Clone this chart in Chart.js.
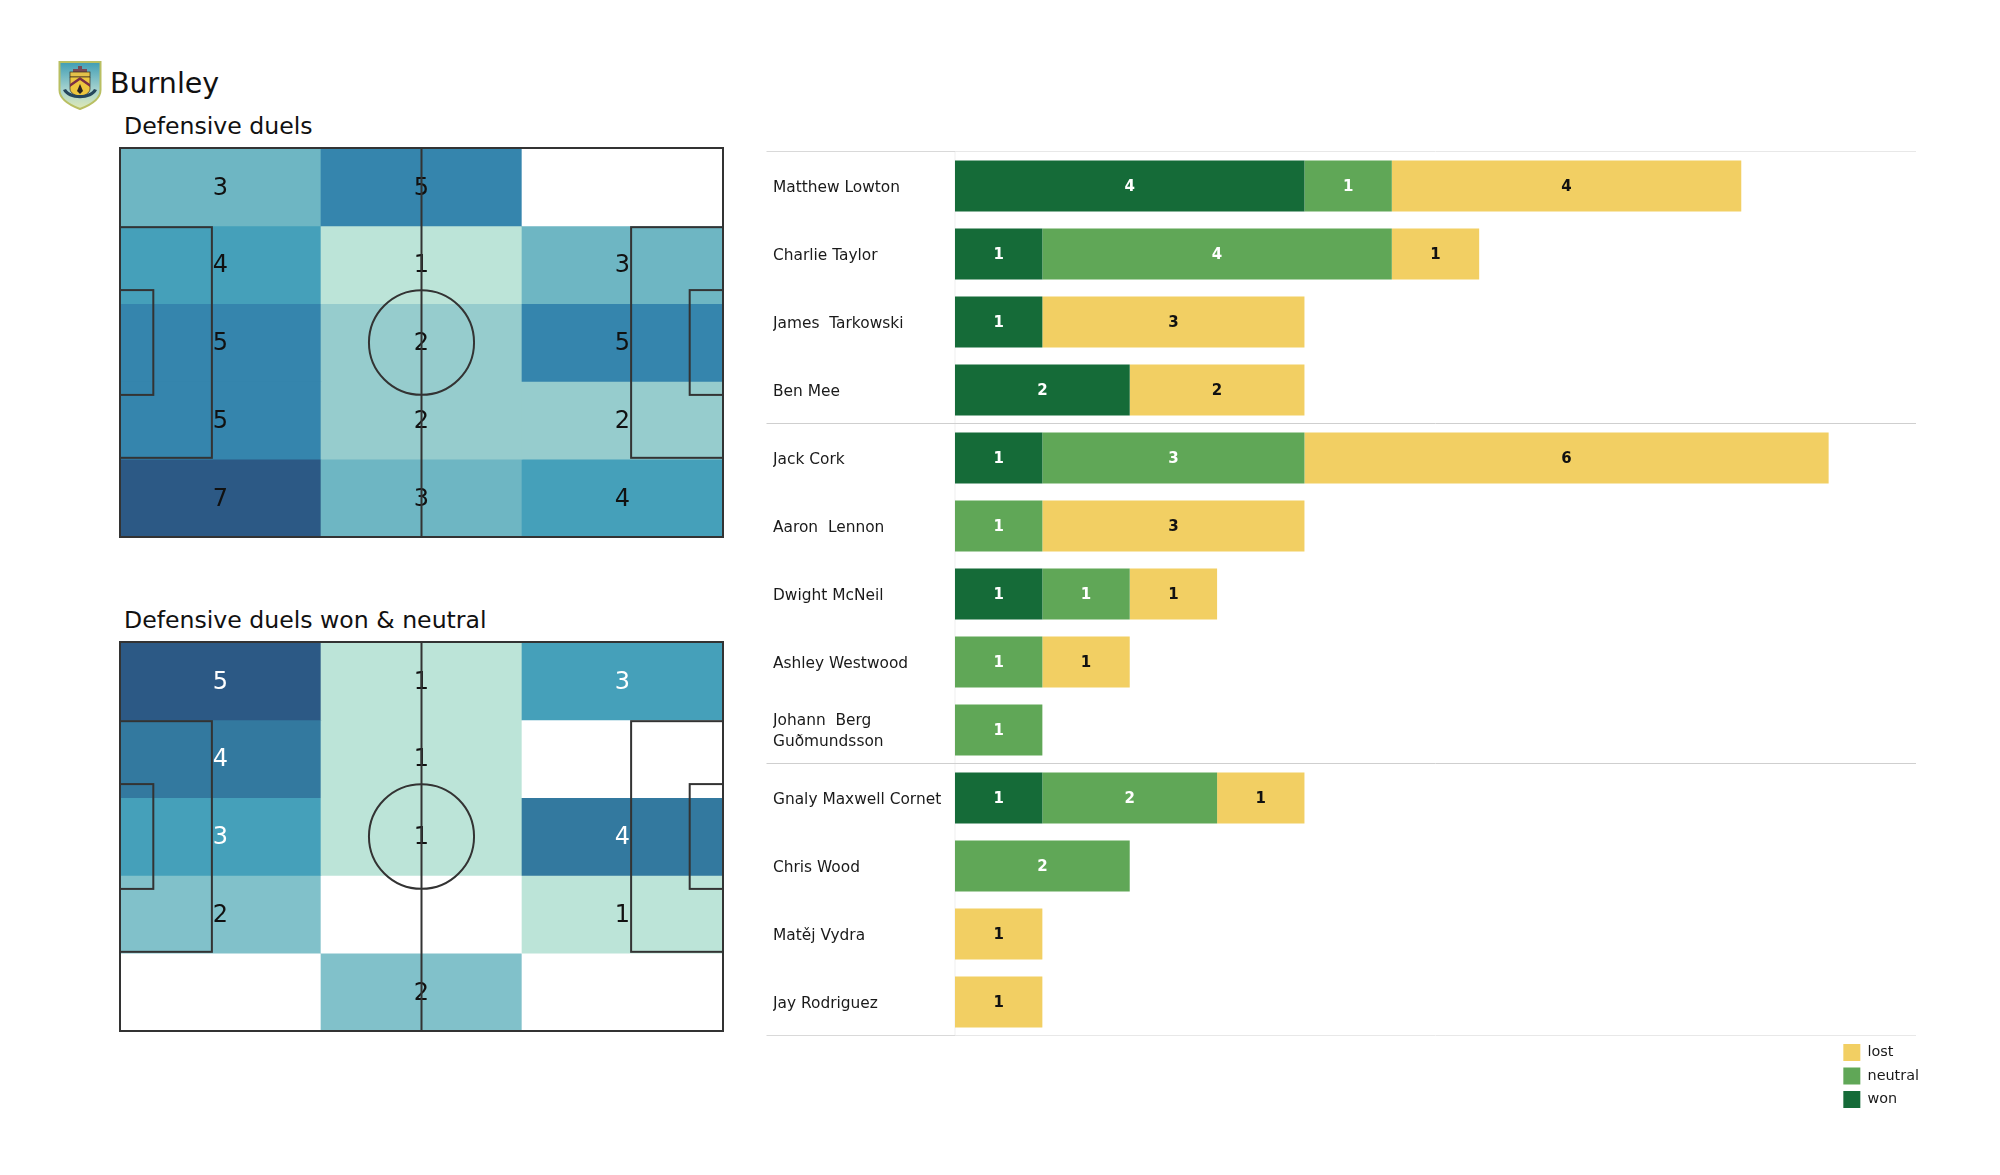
<!DOCTYPE html>
<html>
<head>
<meta charset="utf-8">
<title>Burnley defensive duels</title>
<script src="https://cdn.jsdelivr.net/npm/chart.js@4/dist/chart.umd.min.js"></script>
<style>
  html, body { margin: 0; padding: 0; background: #fff; }
  body { width: 2000px; height: 1175px; position: relative; overflow: hidden; font-family: "DejaVu Sans", sans-serif; color: #111; }
  canvas, .label, svg { position: absolute; }
  .label { white-space: nowrap; line-height: 1; }
</style>
</head>
<body>
<svg style="left:58px;top:60px" width="44" height="50" viewBox="0 0 44 50">
  <defs>
    <linearGradient id="sky" x1="0" y1="0" x2="0" y2="1">
      <stop offset="0" stop-color="#3f9db4"/><stop offset="0.6" stop-color="#a8d4d0"/><stop offset="1" stop-color="#dfe9b4"/>
    </linearGradient>
  </defs>
  <path d="M1.5 2 H42.5 V30 C42.5 40 30 46 22 49 C14 46 1.5 40 1.5 30 Z" fill="url(#sky)" stroke="#b9bf62" stroke-width="2"/>
  <path d="M20 6 h4 v3 h5 v3 H15 v-3 h5 Z" fill="#7a4a55"/>
  <rect x="12" y="12" width="20" height="5" fill="#e4c04a" stroke="#33281f" stroke-width="0.7"/>
  <path d="M12 17 H32 V29 C32 33 26 36 22 37 C18 36 12 33 12 29 Z" fill="#edc63e" stroke="#3a2a20" stroke-width="0.7"/>
  <path d="M12 24 L22 17 L32 24 V27 L22 20 L12 27 Z" fill="#7a2f45"/>
  <path d="M19 31 l3 -7 l3 7 l-3 3 Z" fill="#2b2420"/>
  <path d="M5 30 C10 41 34 41 39 30 L36 29 C31 37 13 37 8 29 Z" fill="#26465c"/>
</svg>
<div class="label" style="left:110px;top:70px;font-size:28.5px">Burnley</div>
<div class="label" style="left:124px;top:114.5px;font-size:23.6px">Defensive duels</div>
<div class="label" style="left:124px;top:608.5px;font-size:23.6px">Defensive duels won &amp; neutral</div>

<canvas id="duelsChart" style="left:116px;top:144px" width="611" height="397"></canvas>
<canvas id="wonChart" style="left:116px;top:638px" width="611" height="397"></canvas>
<canvas id="playersChart" style="left:760px;top:145px" width="1165" height="900"></canvas>
<canvas id="legendChart" style="left:1738.5px;top:1037px" width="190" height="78"></canvas>

<script>
// pitch zones, top row first, left to right
const zoneColumns = ['left', 'middle', 'right'];
const duelsZones = [
  [3, 5, 0],
  [4, 1, 3],
  [5, 2, 5],
  [5, 2, 2],
  [7, 3, 4]
];
const wonZones = [
  [5, 1, 3],
  [4, 1, 0],
  [3, 1, 4],
  [2, 0, 1],
  [0, 2, 0]
];

const players = [
  'Matthew Lowton', 'Charlie Taylor', 'James  Tarkowski', 'Ben Mee',
  'Jack Cork', 'Aaron  Lennon', 'Dwight McNeil', 'Ashley Westwood', ['Johann  Berg', 'Guðmundsson'],
  'Gnaly Maxwell Cornet', 'Chris Wood', 'Matěj Vydra', 'Jay Rodriguez'
];
const won     = [4, 1, 1, 2, 1, 0, 1, 0, 0, 1, 0, 0, 0];
const neutral = [1, 4, 0, 0, 3, 1, 1, 1, 1, 2, 2, 0, 0];
const lost    = [4, 1, 3, 2, 6, 3, 1, 1, 0, 1, 0, 1, 1];

// rows that get a separator line above them (13 = bottom edge)
const separators = [0, 4, 9, 13];

// value -> colour
const duelsColors = { 0: '#ffffff', 1: '#bce4d8', 2: '#96cccd', 3: '#6eb6c3', 4: '#45a0ba', 5: '#3585ad', 7: '#2c5985' };
const wonColors = { 0: '#ffffff', 1: '#bce4d8', 2: '#81c1ca', 3: '#45a0ba', 4: '#33799f', 5: '#2c5985' };

const FONT = '"DejaVu Sans", sans-serif';
const WON = '#156b38', NEUTRAL = '#60a757', LOST = '#f2cf63';
const PITCH_LINE = '#333333';

// draws the numbers over the heatmap cells
const zoneLabels = {
  id: 'zoneLabels',
  afterDatasetsDraw(chart, args, opts) {
    const ctx = chart.ctx;
    ctx.save();
    ctx.font = '24px ' + FONT;
    ctx.textAlign = 'center';
    ctx.textBaseline = 'middle';
    chart.data.datasets.forEach((ds, row) => {
      chart.getDatasetMeta(row).data.forEach((bar, col) => {
        const v = ds.zoneValues[col];
        if (!v) return;
        ctx.fillStyle = v >= opts.whiteFrom ? '#ffffff' : '#111111';
        ctx.fillText(v, bar.x, (bar.y + bar.base) / 2 + 1.5);
      });
    });
    ctx.restore();
  }
};

// pitch markings, in metres on the two hidden scales
const pitchLines = {
  id: 'pitchLines',
  afterDatasetsDraw(chart) {
    const ctx = chart.ctx;
    const px = chart.scales.pitchX, py = chart.scales.pitchY;
    const rect = (x0, y0, x1, y1) => {
      const l = px.getPixelForValue(x0), t = py.getPixelForValue(y0);
      ctx.strokeRect(l, t, px.getPixelForValue(x1) - l, py.getPixelForValue(y1) - t);
    };
    ctx.save();
    ctx.strokeStyle = PITCH_LINE;
    ctx.lineWidth = 2;
    rect(0, 0, 105, 68);
    rect(0, 13.84, 16, 54.16);
    rect(105 - 16, 13.84, 105, 54.16);
    rect(0, 24.84, 5.8, 43.16);
    rect(105 - 5.8, 24.84, 105, 43.16);
    ctx.beginPath();
    ctx.moveTo(px.getPixelForValue(52.5), py.getPixelForValue(0));
    ctx.lineTo(px.getPixelForValue(52.5), py.getPixelForValue(68));
    ctx.stroke();
    ctx.beginPath();
    ctx.ellipse(px.getPixelForValue(52.5), py.getPixelForValue(34),
      px.getPixelForValue(9.15) - px.getPixelForValue(0),
      py.getPixelForValue(9.15) - py.getPixelForValue(0), 0, 0, Math.PI * 2);
    ctx.stroke();
    ctx.restore();
  }
};

function heatmap(id, zones, colors, whiteFrom) {
  return new Chart(document.getElementById(id), {
    type: 'bar',
    data: {
      labels: zoneColumns,
      datasets: zones.map(row => ({
        data: row.map(() => 1),
        zoneValues: row,
        backgroundColor: row.map(v => colors[v]),
        borderWidth: 0,
        barPercentage: 1,
        categoryPercentage: 1
      }))
    },
    options: {
      responsive: false,
      animation: false,
      layout: { padding: 4 },
      plugins: { legend: { display: false }, tooltip: { enabled: false }, zoneLabels: { whiteFrom: whiteFrom } },
      scales: {
        x: { stacked: true, display: false },
        y: { stacked: true, display: false, reverse: true, min: 0, max: zones.length },
        // bar charts default x scales to offset, the pitch must span the whole area
        pitchX: { axis: 'x', type: 'linear', display: false, offset: false, min: 0, max: 105 },
        pitchY: { axis: 'y', type: 'linear', display: false, offset: false, min: 0, max: 68, reverse: true }
      }
    },
    plugins: [zoneLabels, pitchLines]
  });
}

heatmap('duelsChart', duelsZones, duelsColors, 99);
heatmap('wonChart', wonZones, wonColors, 3);

// numbers inside the player bars
const barLabels = {
  id: 'barLabels',
  afterDatasetsDraw(chart) {
    const ctx = chart.ctx;
    ctx.save();
    ctx.font = 'bold 15px ' + FONT;
    ctx.textAlign = 'center';
    ctx.textBaseline = 'middle';
    chart.data.datasets.forEach((ds, i) => {
      ctx.fillStyle = ds.label === 'lost' ? '#111111' : '#ffffff';
      chart.getDatasetMeta(i).data.forEach((bar, j) => {
        if (!ds.data[j]) return;
        ctx.fillText(ds.data[j], (bar.x + bar.base) / 2, bar.y + 1);
      });
    });
    ctx.restore();
  }
};

// group separators run across the name column too, so they are not grid lines
const rowLines = {
  id: 'rowLines',
  beforeDatasetsDraw(chart) {
    const ctx = chart.ctx, y = chart.scales.y, area = chart.chartArea;
    ctx.save();
    ctx.lineWidth = 1;
    ctx.strokeStyle = '#efefef';
    ctx.beginPath();
    ctx.moveTo(area.left, area.top);
    ctx.lineTo(area.left, area.bottom);
    ctx.stroke();
    separators.forEach(row => {
      const outer = row === 0 || row === players.length;
      const py = Math.round(y.getPixelForValue(row - 0.5)) - 0.5;
      ctx.strokeStyle = outer ? '#d9d9d9' : '#cfcfcf';
      ctx.beginPath();
      ctx.moveTo(6.5, py);
      ctx.lineTo(area.left, py);
      ctx.stroke();
      ctx.strokeStyle = outer ? '#e8e8e8' : '#cfcfcf';
      ctx.beginPath();
      ctx.moveTo(area.left, py);
      ctx.lineTo(area.right, py);
      ctx.stroke();
    });
    ctx.restore();
  }
};

const barSeries = [
  { label: 'won', data: won, backgroundColor: WON },
  { label: 'neutral', data: neutral, backgroundColor: NEUTRAL },
  { label: 'lost', data: lost, backgroundColor: LOST }
];

new Chart(document.getElementById('playersChart'), {
  type: 'bar',
  data: {
    labels: players,
    datasets: barSeries.map(s => ({ ...s, barPercentage: 0.75, categoryPercentage: 1, borderWidth: 0 }))
  },
  options: {
    indexAxis: 'y',
    responsive: false,
    animation: false,
    layout: { padding: { left: 13, right: 9, top: 7, bottom: 9 } },
    plugins: { legend: { display: false }, tooltip: { enabled: false } },
    scales: {
      x: { stacked: true, display: false, min: 0, max: 11 },
      y: {
        stacked: true,
        grid: { display: false },
        border: { display: false },
        afterFit(scale) {
          // fixed name column, and no extra room for the first and last label
          scale.width = 182;
          scale.paddingTop = 0;
          scale.paddingBottom = 0;
        },
        ticks: { crossAlign: 'far', labelOffset: 1.5, color: '#1a1a1a', font: { family: FONT, size: 15.4, lineHeight: 1.33 }, autoSkip: false }
      }
    }
  },
  plugins: [barLabels, rowLines]
});

// legend lives in its own small canvas under the bars
new Chart(document.getElementById('legendChart'), {
  type: 'bar',
  data: { labels: [], datasets: barSeries.map(s => ({ label: s.label, data: [], backgroundColor: s.backgroundColor, borderWidth: 0 })) },
  options: {
    responsive: false,
    animation: false,
    plugins: {
      tooltip: { enabled: false },
      legend: {
        position: 'right',
        reverse: true,
        onClick: null,
        labels: { boxWidth: 17, boxHeight: 17, padding: 6.5, color: '#1a1a1a', font: { family: FONT, size: 14.4 } }
      }
    },
    scales: { x: { display: false }, y: { display: false } }
  }
});
</script>
</body>
</html>
